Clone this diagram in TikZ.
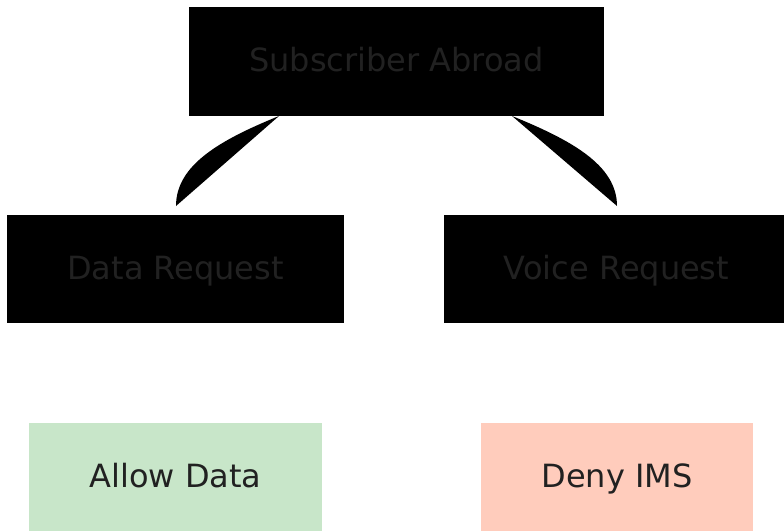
\documentclass[tikz,border=0pt]{standalone}
\usepackage{fontspec}
\setmainfont{DejaVu Sans}
\definecolor{txt}{HTML}{212121}
\definecolor{allowc}{HTML}{C8E6C9}
\definecolor{denyc}{HTML}{FFCCBC}
\begin{document}
\begin{tikzpicture}[x=1pt,y=-1pt,
  box/.style={rectangle, draw=none, inner sep=0pt, text=txt,
    font=\fontsize{32}{38}\selectfont, text height=28.8pt, text depth=8.45pt},
  blackbox/.style={box, fill=black},
]
\useasboundingbox (0,0) rectangle (784,530);
\node[blackbox, minimum width=415pt, minimum height=109pt] (sub) at (396.5,61.5) {Subscriber Abroad};
\node[blackbox, minimum width=337pt, minimum height=108pt] (data) at (175.5,269) {Data Request};
\node[blackbox, minimum width=345pt, minimum height=108pt] (voice) at (616.5,269) {Voice Request};
\node[box, fill=allowc, minimum width=293pt, minimum height=108pt] (allow) at (175.5,477) {Allow Data};
\node[box, fill=denyc, minimum width=272pt, minimum height=108pt] (deny) at (617,477) {Deny IMS};
\coordinate (ltop) at (279,116);
\coordinate (lbot) at (176,206);
\coordinate (rtop) at (512,116);
\coordinate (rbot) at (617,206);
\fill[black] (ltop) .. controls (220,140) and (176,165) .. (lbot) -- cycle;
\fill[black] (rtop) .. controls (571,140) and (617,165) .. (rbot) -- cycle;
\end{tikzpicture}
\end{document}
